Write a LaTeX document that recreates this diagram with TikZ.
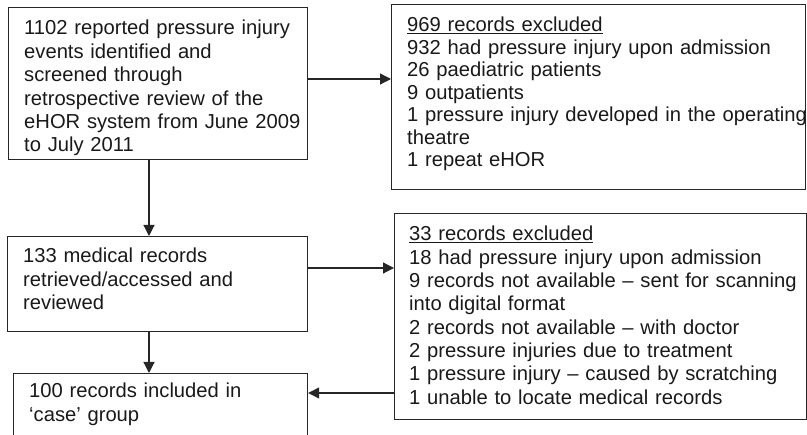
\documentclass[tikz,border=0pt]{standalone}
\usepackage{fontspec}
\setmainfont{Liberation Sans}
\usetikzlibrary{arrows.meta}
\hyphenpenalty=10000
\exhyphenpenalty=10000
\tikzset{
  box/.style={draw=black!85, line width=1.2pt, inner sep=0pt, anchor=north west},
  txt/.style={anchor=base west, inner sep=0pt, align=left, font=\fontsize{20.2}{23.4}\selectfont, text=black!90},
  arr/.style={draw=black!85, line width=1.2pt, -{Triangle[length=11pt,width=11pt]}}
}
\begin{document}
\begin{tikzpicture}[x=1pt,y=-1pt]
\useasboundingbox (0,0) rectangle (807,435);
\clip (0,0) rectangle (807,435);
% boxes
\node[box, minimum width=299pt, minimum height=152pt] (A) at (8,7) {};
\node[box, minimum width=414pt, minimum height=185pt] (B) at (391,4) {};
\node[box, minimum width=300pt, minimum height=95pt] (C) at (7,236) {};
\node[box, minimum width=412pt, minimum height=206pt] (E) at (394,213) {};
\node[box, minimum width=294pt, minimum height=90pt] (D) at (13,373) {};
% texts
\node[txt, text width=300pt] (tA) at (24,35) {1102 reported pressure injury\\events identified and\\screened through\\retrospective review of the\\eHOR system from June 2009\\to July 2011};
\node[txt, text width=440pt, font=\fontsize{20.2}{22.5}\selectfont] (tB) at (407,32) {\underline{969 records excluded}\\932 had pressure injury upon admission\\26 paediatric patients\\9 outpatients\\1 pressure injury developed in the operating\\theatre\\1 repeat eHOR};
\node[txt, text width=300pt] (tC) at (23,263) {133 medical records\\retrieved/accessed and\\reviewed};
\node[txt, text width=440pt, font=\fontsize{20.2}{23.3}\selectfont] (tE) at (409,241) {\underline{33 records excluded}\\18 had pressure injury upon admission\\9 records not available -- sent for scanning\\into digital format\\2 records not available -- with doctor\\2 pressure injuries due to treatment\\1 pressure injury -- caused by scratching\\1 unable to locate medical records};
\node[txt, text width=300pt] (tD) at (29,398) {100 records included in\\`case' group};
% connectors
\coordinate (a1) at (149,159);
\coordinate (c1) at (149,236);
\draw[arr] (a1) -- (c1);
\coordinate (c2) at (149,331);
\coordinate (d1) at (149,373);
\draw[arr] (c2) -- (d1);
\draw[arr] (A.east |- 0,79) -- (B.west |- 0,79);
\draw[arr] (C.east |- 0,268) -- (E.west |- 0,268);
\draw[arr] (E.west |- 0,393) -- (D.east |- 0,393);
\end{tikzpicture}
\end{document}
